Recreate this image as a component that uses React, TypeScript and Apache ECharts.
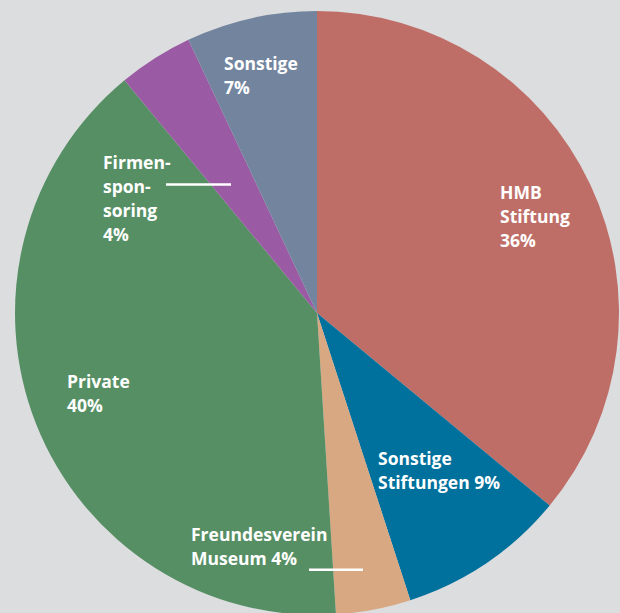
import React, { useEffect, useRef } from "react";
import * as echarts from "echarts";

const categories = [
  "HMB Stiftung",
  "Sonstige Stiftungen",
  "Freundesverein Museum",
  "Private",
  "Firmensponsoring",
  "Sonstige",
];
const values = [36, 9, 4, 40, 4, 7];
const labelTemplates = [
  "HMB\nStiftung\n{v}%",
  "Sonstige\nStiftungen {v}%",
  "Freundesverein\nMuseum {v}%",
  "Private\n{v}%",
  "Firmen-\nspon-\nsoring\n{v}%",
  "Sonstige\n{v}%",
];
const colors = ["#bf6e67", "#00709c", "#d8a883", "#578f65", "#9a5aa4", "#73859e"];

const labelPos: [number, number][] = [
  [500, 180],
  [378, 446],
  [191, 522],
  [67, 369],
  [103, 150],
  [224, 51],
];

export default function App() {
  const ref = useRef<HTMLDivElement>(null);
  useEffect(() => {
    if (!ref.current) return;
    const chart = echarts.init(ref.current, undefined, { renderer: "svg" });
    chart.setOption({
      animation: false,
      backgroundColor: "#dcdddf",
      series: [
        {
          type: "pie",
          center: [317, 313],
          radius: 302,
          startAngle: 90,
          clockwise: true,
          silent: true,
          data: categories.map((name, i) => ({
            name,
            value: values[i],
            itemStyle: { color: colors[i] },
          })),
          label: {
            show: true,
            position: "inside",
            color: "#ffffff",
            fontFamily: "Open Sans",
            fontWeight: "bold",
            fontSize: 17.5,
            lineHeight: 24,
            align: "left",
            formatter: (p: any) =>
              labelTemplates[p.dataIndex].replace("{v}", String(p.value)),
          },
          labelLine: { show: false },
          labelLayout: (p: any) => ({
            x: labelPos[p.dataIndex][0],
            y: labelPos[p.dataIndex][1],
            align: "left",
            verticalAlign: "top",
          }),
        },
      ],
      graphic: [
        {
          type: "line",
          z: 100,
          zlevel: 1,
          shape: { x1: 166, y1: 184.5, x2: 231, y2: 184.5 },
          style: { stroke: "#ffffff", lineWidth: 2.5 },
          silent: true,
        },
        {
          type: "line",
          z: 100,
          zlevel: 1,
          shape: { x1: 309, y1: 569.7, x2: 363, y2: 569.7 },
          style: { stroke: "#ffffff", lineWidth: 2.5 },
          silent: true,
        },
      ],
    });
    return () => chart.dispose();
  }, []);
  return (
    <div
      ref={ref}
      style={{ position: "fixed", left: 0, top: 0, width: 620, height: 613 }}
    />
  );
}
